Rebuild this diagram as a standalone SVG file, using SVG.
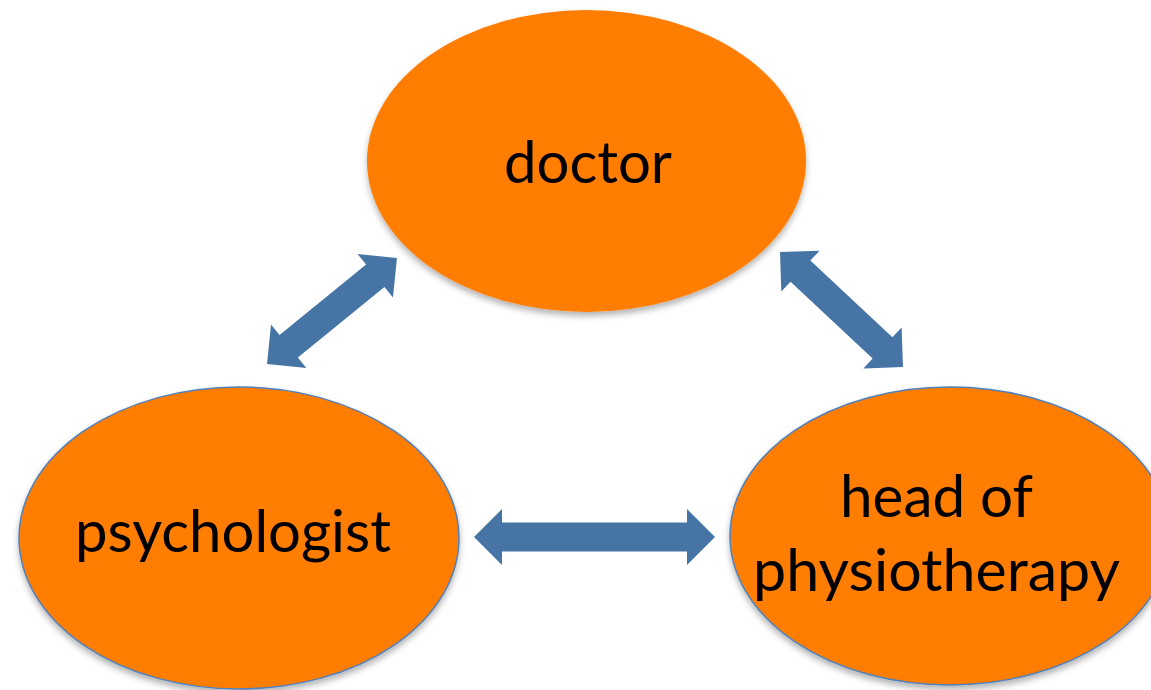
<svg xmlns="http://www.w3.org/2000/svg" width="1151" height="690" viewBox="0 0 1151 690">
  <defs>
    <filter id="shadow" x="-10%" y="-10%" width="120%" height="125%">
      <feDropShadow dx="0" dy="4" stdDeviation="3" flood-color="#000" flood-opacity="0.3"/>
    </filter>
  </defs>
  <style>
    .node { fill: #FF7D00; filter: url(#shadow); }
    .outlined { stroke: #4F81BD; stroke-width: 1.5; }
    .label { font-family: Lato, "Open Sans", "Liberation Sans", sans-serif; font-size: 58px; fill: #000; text-anchor: middle; }
    .arrow { fill: #4674A5; }
  </style>
  <rect width="1151" height="690" fill="#fff"/>

  <g id="doctor">
    <ellipse class="node" cx="586.5" cy="161" rx="219.5" ry="151"/>
    <text class="label" x="588" y="183" textLength="168" lengthAdjust="spacingAndGlyphs">doctor</text>
  </g>

  <g id="psychologist">
    <ellipse class="node outlined" cx="239" cy="538" rx="220" ry="151"/>
    <text class="label" x="233" y="552" textLength="316" lengthAdjust="spacingAndGlyphs">psychologist</text>
  </g>

  <g id="head-of-physiotherapy">
    <ellipse class="node outlined" cx="950" cy="536" rx="220" ry="149"/>
    <text class="label" x="936.5" y="517" textLength="193" lengthAdjust="spacingAndGlyphs">head of</text>
    <text class="label" x="936.5" y="591" textLength="367" lengthAdjust="spacingAndGlyphs">physiotherapy</text>
  </g>

  <!-- double-headed block arrows, drawn along x then placed -->
  <g id="connectors">
    <path class="arrow" transform="translate(267 364) rotate(-39.2)"
          d="M0 0 L28 -28 L28 -14.5 L139.7 -14.5 L139.7 -28 L167.7 0 L139.7 28 L139.7 14.5 L28 14.5 L28 28 Z"/>
    <path class="arrow" transform="translate(780 252) rotate(43.1)"
          d="M0 0 L28 -28 L28 -14.5 L140.4 -14.5 L140.4 -28 L168.4 0 L140.4 28 L140.4 14.5 L28 14.5 L28 28 Z"/>
    <path class="arrow" transform="translate(474 537)"
          d="M0 0 L28 -28 L28 -14.5 L213 -14.5 L213 -28 L241 0 L213 28 L213 14.5 L28 14.5 L28 28 Z"/>
  </g>
</svg>
